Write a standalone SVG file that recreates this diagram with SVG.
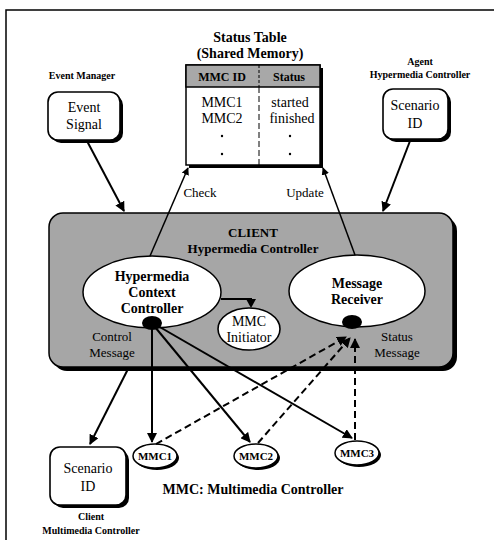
<svg xmlns="http://www.w3.org/2000/svg" width="494" height="540" viewBox="0 0 494 540" font-family="'Liberation Serif', 'Times New Roman', serif">
<defs>
<style>
text{font-family:'Liberation Serif','Times New Roman',serif;fill:#000;}
.b{font-weight:bold;}
.lbl{font-size:10px;font-weight:bold;}
.t13{font-size:14px;}
.box{fill:#fff;stroke:#000;stroke-width:1.6;}
.shadow{fill:#000;}
.line{stroke:#000;stroke-width:2;fill:none;}
.thin{stroke:#000;stroke-width:1.5;fill:none;}
.dash{stroke:#000;stroke-width:2;fill:none;stroke-dasharray:7,4;}
</style>
<marker id="ah" viewBox="0 0 10 10" refX="9" refY="5" markerWidth="5" markerHeight="5" orient="auto">
<path d="M0,0 L10,5 L0,10 z" fill="#000"/>
</marker>
</defs>
<rect width="494" height="540" fill="#fff"/>
<g id="frame">
<path d="M6,540 V10 H494" fill="none" stroke="#000" stroke-width="1.5"/>
</g>

<g id="status-table">
<text x="250" y="42" text-anchor="middle" class="b" font-size="14">Status Table</text>
<text x="250" y="58" text-anchor="middle" class="b" font-size="14">(Shared Memory)</text>
<rect x="189" y="68" width="134" height="100" class="shadow"/>
<rect x="186" y="65" width="134" height="100" fill="#fff" stroke="#000" stroke-width="1.5"/>
<rect x="186" y="65" width="134" height="22" fill="#a8a8a8" stroke="#000" stroke-width="1.5"/>
<line x1="259" y1="65" x2="259" y2="87" stroke="#000" stroke-width="1" stroke-dasharray="3,2"/>
<line x1="259" y1="87" x2="259" y2="165" stroke="#000" stroke-width="1" stroke-dasharray="6,3"/>
<text x="222" y="81" text-anchor="middle" class="b" font-size="12" fill="#333">MMC ID</text>
<text x="289" y="81" text-anchor="middle" class="b" font-size="12" fill="#333">Status</text>
<text x="222" y="107" text-anchor="middle" class="t13">MMC1</text>
<text x="222" y="123" text-anchor="middle" class="t13">MMC2</text>
<text x="290" y="107" text-anchor="middle" class="t13">started</text>
<text x="292" y="123" text-anchor="middle" class="t13">finished</text>
<circle cx="222" cy="136" r="1.2"/><circle cx="222" cy="154" r="1.2"/>
<circle cx="290" cy="136" r="1.2"/><circle cx="290" cy="154" r="1.2"/>
</g>

<g id="event-signal">
<text x="82" y="79" text-anchor="middle" class="lbl">Event Manager</text>
<rect x="51" y="95" width="72" height="48" rx="10" class="shadow"/>
<rect x="48" y="92" width="72" height="48" rx="10" class="box"/>
<text x="84" y="112" text-anchor="middle" class="t13">Event</text>
<text x="84" y="129" text-anchor="middle" class="t13">Signal</text>
</g>

<g id="agent-scenario">
<text x="420" y="65" text-anchor="middle" class="lbl">Agent</text>
<text x="420" y="78" text-anchor="middle" class="lbl">Hypermedia Controller</text>
<rect x="386" y="92" width="65" height="50" rx="10" class="shadow"/>
<rect x="383" y="89" width="65" height="50" rx="10" class="box"/>
<text x="415" y="110" text-anchor="middle" class="t13">Scenario</text>
<text x="415" y="128" text-anchor="middle" class="t13">ID</text>
</g>

<g id="client">
<rect x="53" y="217" width="404" height="154" rx="14" class="shadow"/>
<rect x="49" y="213" width="404" height="154" rx="14" fill="#a6a6a6" stroke="#000" stroke-width="1.5"/>
<text x="253" y="237" text-anchor="middle" class="b" font-size="13" fill="#222">CLIENT</text>
<text x="253" y="253" text-anchor="middle" class="b" font-size="13" fill="#222">Hypermedia Controller</text>
<text x="112" y="341" text-anchor="middle" font-size="13" fill="#111">Control</text>
<text x="112" y="357" text-anchor="middle" font-size="13" fill="#111">Message</text>
<text x="397" y="341" text-anchor="middle" font-size="13" fill="#111">Status</text>
<text x="397" y="357" text-anchor="middle" font-size="13" fill="#111">Message</text>
</g>

<g id="hcc">
<ellipse cx="152" cy="292" rx="69" ry="36" fill="#fff" stroke="#000" stroke-width="1.5"/>
<text x="152" y="281" text-anchor="middle" class="b" font-size="14">Hypermedia</text>
<text x="152" y="297" text-anchor="middle" class="b" font-size="14">Context</text>
<text x="152" y="313" text-anchor="middle" class="b" font-size="14">Controller</text>
<ellipse cx="152" cy="323" rx="10" ry="7" fill="#000"/>
</g>

<g id="mmc-initiator">
<ellipse cx="249" cy="329" rx="31" ry="21" fill="#fff" stroke="#000" stroke-width="1.6"/>
<text x="249" y="326" text-anchor="middle" class="t13">MMC</text>
<text x="249" y="342" text-anchor="middle" class="t13">Initiator</text>
</g>

<g id="message-receiver">
<ellipse cx="357" cy="291" rx="68" ry="36" fill="#fff" stroke="#000" stroke-width="1.5"/>
<text x="357" y="288" text-anchor="middle" class="b" font-size="14">Message</text>
<text x="357" y="304" text-anchor="middle" class="b" font-size="14">Receiver</text>
<ellipse cx="352" cy="322" rx="10" ry="7" fill="#000"/>
</g>

<g id="mmc1">
<ellipse cx="157" cy="458" rx="22" ry="12" class="shadow"/>
<ellipse cx="155" cy="456" rx="22" ry="12" fill="#fff" stroke="#000" stroke-width="1.5"/>
<text x="155" y="460" text-anchor="middle" class="b" font-size="11">MMC1</text>
</g>
<g id="mmc2">
<ellipse cx="258" cy="458" rx="22" ry="12" class="shadow"/>
<ellipse cx="256" cy="456" rx="22" ry="12" fill="#fff" stroke="#000" stroke-width="1.5"/>
<text x="256" y="460" text-anchor="middle" class="b" font-size="11">MMC2</text>
</g>
<g id="mmc3">
<ellipse cx="359" cy="455" rx="22" ry="12" class="shadow"/>
<ellipse cx="357" cy="453" rx="22" ry="12" fill="#fff" stroke="#000" stroke-width="1.5"/>
<text x="357" y="457" text-anchor="middle" class="b" font-size="11">MMC3</text>
</g>

<g id="client-scenario">
<rect x="53" y="450" width="76" height="58" rx="10" class="shadow"/>
<rect x="50" y="447" width="76" height="58" rx="10" class="box"/>
<text x="88" y="473" text-anchor="middle" class="t13">Scenario</text>
<text x="88" y="491" text-anchor="middle" class="t13">ID</text>
<text x="91" y="520" text-anchor="middle" class="lbl">Client</text>
<text x="91" y="534" text-anchor="middle" class="lbl">Multimedia Controller</text>
</g>

<text x="253" y="494" text-anchor="middle" class="b" font-size="14">MMC: Multimedia Controller</text>

<g id="connectors">
<line x1="87" y1="141" x2="124" y2="211" class="line" stroke-width="2.5" marker-end="url(#ah)"/>
<line x1="410" y1="141" x2="383" y2="211" class="line" stroke-width="2.5" marker-end="url(#ah)"/>
<line x1="150" y1="256" x2="188" y2="168" class="thin" marker-end="url(#ah)"/>
<text x="200" y="197" text-anchor="middle" font-size="13">Check</text>
<line x1="355" y1="255" x2="323" y2="168" class="thin" marker-end="url(#ah)"/>
<text x="305" y="197" text-anchor="middle" font-size="13">Update</text>
<path d="M221,299 H251 V301" class="line"/>
<polygon points="246,299 256,299 251,308" fill="#000"/>
<line x1="128" y1="369" x2="90" y2="444" class="line" stroke-width="2.5" marker-end="url(#ah)"/>
<line x1="152" y1="328" x2="152" y2="442" class="line" marker-end="url(#ah)"/>
<line x1="155" y1="327" x2="250" y2="442" class="line" marker-end="url(#ah)"/>
<line x1="158" y1="326" x2="352" y2="438" class="line" marker-end="url(#ah)"/>
<line x1="156" y1="444" x2="346" y2="337" class="dash" marker-end="url(#ah)"/>
<line x1="258" y1="443" x2="350" y2="338" class="dash" marker-end="url(#ah)"/>
<line x1="355" y1="440" x2="355" y2="339" class="dash" marker-end="url(#ah)"/>
</g>
</svg>
